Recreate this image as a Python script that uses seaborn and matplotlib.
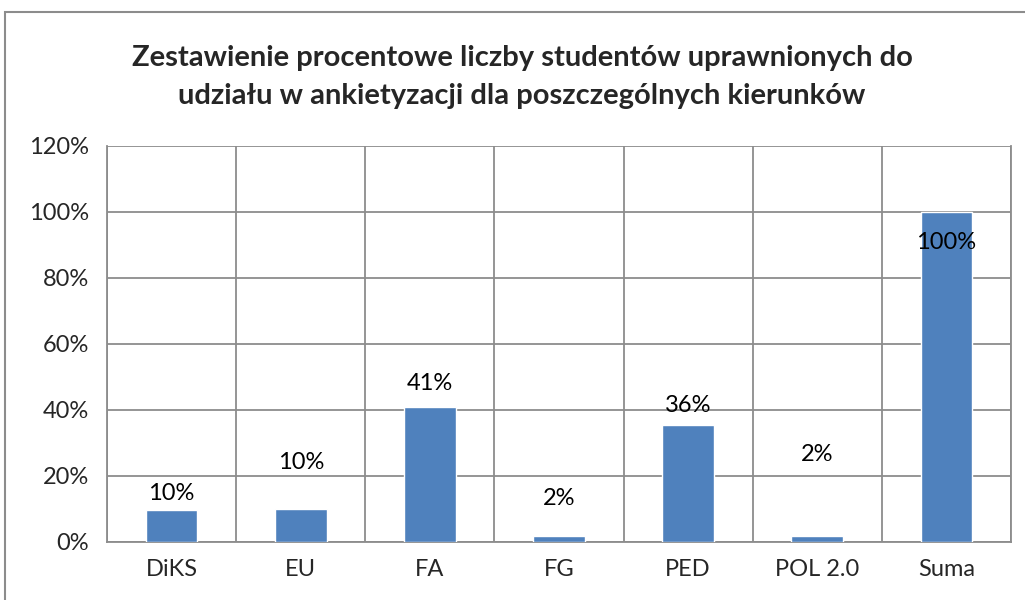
import numpy as np
import pandas as pd
import seaborn as sns
import matplotlib
matplotlib.use("Agg")
import matplotlib.pyplot as plt
from matplotlib.patches import Rectangle
from matplotlib.ticker import FixedLocator

kierunki = ["DiKS", "EU", "FA", "FG", "PED", "POL 2.0", "Suma"]
procent = [9.8, 10.0, 40.9, 1.8, 35.5, 1.9, 100.0]
etykiety = ["10%", "10%", "41%", "2%", "36%", "2%", "100%"]
# label heights as placed in the original sheet (moved by hand there)
etykiety_y = [14.8, 24.0, 47.9, 13.3, 41.5, 26.4, 90.9]

sns.set_style("white")
plt.rcParams['font.family'] = ['Lato', 'DejaVu Sans']

df = pd.DataFrame({"kierunek": kierunki, "procent": procent})

fig = plt.figure(figsize=(10.25, 6), dpi=100)
ax = fig.add_axes([107 / 1025, 1 - 542 / 600, (1011 - 107) / 1025, (542 - 146) / 600])

sns.barplot(data=df, x="kierunek", y="procent", color="#4F81BD", saturation=1,
            width=0.4, ax=ax, zorder=3)

for i, (lab, y) in enumerate(zip(etykiety, etykiety_y)):
    ax.text(i, y, lab, ha="center", va="center", fontsize=17, color="black", zorder=4)

ax.set_xlim(-0.5, len(kierunki) - 0.5)
ax.set_ylim(0, 120)
ax.set_yticks(np.arange(0, 121, 20))
ax.set_yticklabels([f"{v}%" for v in range(0, 121, 20)], fontsize=17)
ax.xaxis.set_minor_locator(FixedLocator(np.arange(-0.5, len(kierunki), 1)))
ax.tick_params(axis="x", which="major", length=0, labelsize=17, pad=12)
ax.tick_params(axis="x", which="minor", length=8, width=1.3, color="#8c8c8c", direction="out")
ax.tick_params(axis="y", length=7, width=1.3, color="#8c8c8c", direction="out", pad=6)
ax.grid(True, axis="y", which="major", color="#8c8c8c", linewidth=1.3, zorder=0)
ax.grid(True, axis="x", which="minor", color="#8c8c8c", linewidth=1.3, zorder=0)
ax.set_axisbelow(True)
ax.set_xlabel("")
ax.set_ylabel("")
for s in ax.spines.values():
    s.set_color("#8c8c8c")
    s.set_linewidth(1.3)
ax.spines["top"].set_visible(False)

fig.text(522 / 1025, 1 - 77 / 600,
         "Zestawienie procentowe liczby studentów uprawnionych do\nudziału w ankietyzacji dla poszczególnych kierunków",
         ha="center", va="center", fontsize=21, fontweight="bold", linespacing=1.55)

fig.patches.append(Rectangle((5 / 1025, -0.1), 1.2, 1.1 - 12 / 600, transform=fig.transFigure,
                             fill=False, edgecolor="#8c8c8c", linewidth=1.5))

fig.savefig("out.png", dpi=100)
